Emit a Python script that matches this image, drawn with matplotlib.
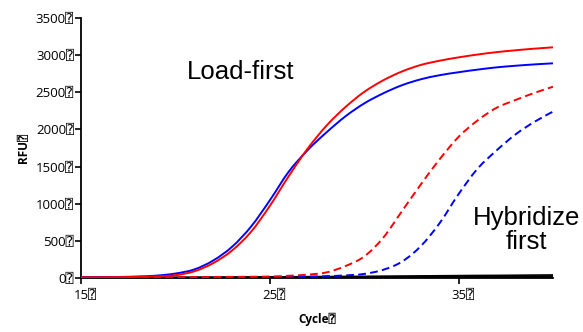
import matplotlib
matplotlib.use("Agg")
import matplotlib.pyplot as plt
from matplotlib.path import Path
from matplotlib.patches import PathPatch
from matplotlib.transforms import ScaledTranslation

cycles = list(range(15, 41))

load_red = [10, 10, 12, 15, 22, 38, 90, 200, 370, 620, 970, 1370, 1740, 2050, 2300,
            2505, 2660, 2780, 2868, 2925, 2970, 3008, 3040, 3065, 3087, 3105]
load_blue = [12, 12, 14, 20, 32, 60, 115, 235, 420, 690, 1045, 1430, 1720, 1960, 2175,
             2350, 2485, 2595, 2675, 2730, 2770, 2805, 2835, 2857, 2875, 2890]
hyb_red = [8, 8, 9, 10, 10, 11, 12, 13, 15, 17, 20, 30, 45, 75, 160,
           290, 540, 900, 1260, 1600, 1900, 2120, 2290, 2395, 2490, 2575]
hyb_blue = [6, 6, 6, 7, 7, 8, 8, 9, 10, 11, 12, 14, 18, 25, 35,
            55, 110, 220, 430, 740, 1130, 1470, 1715, 1930, 2100, 2240]
neg_1 = [2, 3, 4, 5, 6, 8, 9, 10, 12, 13, 15, 16, 18, 19, 21,
         22, 24, 26, 28, 30, 32, 34, 35, 37, 39, 41]
neg_2 = [1, 2, 3, 4, 5, 6, 7, 8, 9, 10, 11, 12, 13, 14, 15,
         16, 17, 18, 19, 20, 21, 22, 23, 24, 25, 26]
neg_3 = [0, 1, 1, 2, 2, 3, 3, 4, 4, 5, 5, 6, 6, 7, 7,
         8, 8, 9, 9, 10, 10, 11, 11, 12, 12, 13]

yticks = [0, 500, 1000, 1500, 2000, 2500, 3000, 3500]
xticks = [15, 25, 35]
BOX = "\u2370"


def smooth_line(ax, xs, ys, **kw):
    """Draw a smooth (Catmull-Rom as cubic Bezier) curve through the data points."""
    n = len(xs)
    verts = [(xs[0], ys[0])]
    codes = [Path.MOVETO]
    for i in range(n - 1):
        x0, y0 = (xs[i - 1], ys[i - 1]) if i > 0 else (xs[i], ys[i])
        x1, y1 = xs[i], ys[i]
        x2, y2 = xs[i + 1], ys[i + 1]
        x3, y3 = (xs[i + 2], ys[i + 2]) if i + 2 < n else (x2, y2)
        c1 = (x1 + (x2 - x0) / 6.0, y1 + (y2 - y0) / 6.0)
        c2 = (x2 - (x3 - x1) / 6.0, y2 - (y3 - y1) / 6.0)
        verts += [c1, c2, (x2, y2)]
        codes += [Path.CURVE4] * 3
    patch = PathPatch(Path(verts, codes), facecolor="none", capstyle="butt", **kw)
    ax.add_patch(patch)
    return patch


fig = plt.figure(figsize=(5.83, 3.32), dpi=100)
ax = fig.add_axes([81/583, 54/332, 472/583, 260/332])

lw = 1.4
for neg in (neg_1, neg_2, neg_3):
    smooth_line(ax, cycles, neg, edgecolor="black", lw=1.2, zorder=2)
smooth_line(ax, cycles, hyb_blue, edgecolor="#0000ff", lw=lw, linestyle=(0, (4, 2.2)), zorder=3)
smooth_line(ax, cycles, hyb_red, edgecolor="#ff0000", lw=lw, linestyle=(0, (4, 2.2)), zorder=3)
smooth_line(ax, cycles, load_blue, edgecolor="#0000ff", lw=lw, zorder=4)
smooth_line(ax, cycles, load_red, edgecolor="#ff0000", lw=lw, zorder=4)

ax.set_xlim(15, 40)
ax.set_ylim(0, 3500)
ax.spines["top"].set_visible(False)
ax.spines["right"].set_visible(False)
for s in ("left", "bottom"):
    ax.spines[s].set_linewidth(1.3)
    ax.spines[s].set_color("black")

tick_fam = ["Open Sans", "DejaVu Sans", "DejaVu Sans Mono"]
ax.set_yticks(yticks)
ax.set_yticklabels([f"{v}{BOX}" for v in yticks], family=tick_fam, fontsize=9.5)
ax.set_xticks(xticks)
ax.set_xticklabels([f"{v}{BOX}" for v in xticks], family=tick_fam, fontsize=9.5)
ax.tick_params(axis="both", direction="out", length=4, width=1.2, color="black")
ax.tick_params(axis="y", pad=1)
ax.tick_params(axis="x", pad=4)
shift = ScaledTranslation(4/100, 0, fig.dpi_scale_trans)
for lab in ax.get_xticklabels():
    lab.set_transform(lab.get_transform() + shift)

ax.set_xlabel(f"Cycle{BOX}", family=tick_fam, fontsize=8.5, fontweight="bold", labelpad=8)
ax.set_ylabel(f"RFU{BOX}", family=tick_fam, fontsize=8.5, fontweight="bold", labelpad=4)

ax.text(0.339, 0.792, "Load-first", transform=ax.transAxes, ha="center", va="center",
        family="Liberation Sans", fontsize=18.5, color="black")
ax.text(0.943, 0.185, "Hybridize\nfirst", transform=ax.transAxes, ha="center", va="center",
        family="Liberation Sans", fontsize=18.5, color="black", linespacing=1.0,
        multialignment="center", clip_on=False)

fig.savefig("out.png", dpi=100)
